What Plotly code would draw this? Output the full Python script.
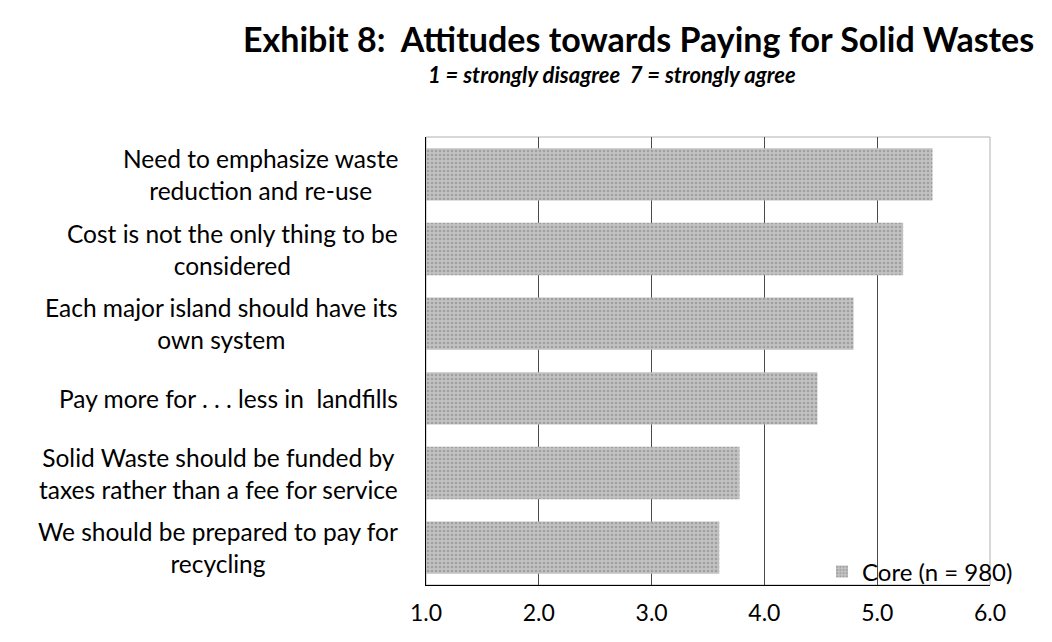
import plotly.graph_objects as go

categories = [
    "We should be prepared to pay for<br>recycling",
    "Solid Waste should be funded by<br>taxes rather than a fee for service",
    "Pay more for . . . less in  landfills",
    "Each major island should have its<br>own system",
    "Cost is not the only thing to be<br>considered",
    "Need to emphasize waste<br>reduction and re-use",
]
values = [3.60, 3.78, 4.47, 4.79, 5.23, 5.49]
tick_vals = [1, 2, 3, 4, 5, 6]
tick_text = ["1.0", "2.0", "3.0", "4.0", "5.0", "6.0"]
series_name = "Core (n = 980)"

FONT = "Lato"
W, H = 1052, 642
L, R, T, B = 426, 62, 137, 57
pw, ph = W - L - R, H - T - B

def px_x(px):
    return (px - L) / pw

def px_y(py):
    return (H - B - py) / ph

fig = go.Figure()
fig.add_trace(go.Bar(
    y=categories, x=values, orientation="h", name=series_name,
    marker=dict(color="#bdbdbd", line=dict(width=0),
                pattern=dict(shape=".", fgcolor="#7e7e7e", bgcolor="#c2c2c2",
                             size=4, solidity=0.35)),
    showlegend=True,
))

for cat in categories:
    fig.add_annotation(x=0, xref="paper", y=cat, yref="y", text=cat,
                       xanchor="right", yanchor="middle", align="center",
                       xshift=-26, showarrow=False,
                       font=dict(family=FONT, size=24.5, color="#000"))

fig.add_annotation(x=px_x(638), xref="paper", y=px_y(38), yref="paper",
                   text="<b>Exhibit 8:  Attitudes towards Paying for Solid Wastes</b>",
                   showarrow=False, xanchor="center", yanchor="middle",
                   font=dict(family=FONT, size=34, color="#000"))
fig.add_annotation(x=px_x(612), xref="paper", y=px_y(74), yref="paper",
                   text="<b><i>1 = strongly disagree  7 = strongly agree</i></b>",
                   showarrow=False, xanchor="center", yanchor="middle",
                   font=dict(family=FONT, size=22, color="#000"))

# light plot-area frame
fig.add_shape(type="rect", xref="paper", yref="paper", x0=0, x1=1, y0=0, y1=1,
              line=dict(color="#b0b0b0", width=1), layer="below")

fig.update_layout(
    width=W, height=H,
    margin=dict(l=L, r=R, t=T, b=B, pad=0),
    plot_bgcolor="white", paper_bgcolor="white",
    bargap=0.3,
    showlegend=True,
    legend=dict(x=px_x(822), xanchor="left", y=px_y(572), yanchor="middle",
                bgcolor="rgba(0,0,0,0)", font=dict(family=FONT, size=24, color="#000"),
                itemwidth=30, tracegroupgap=0),
    xaxis=dict(range=[1, 6], tickvals=tick_vals, ticktext=tick_text,
               showgrid=True, gridcolor="#4a4a4a", gridwidth=1,
               showline=True, linecolor="#000", linewidth=1,
               ticks="", ticklabelstandoff=7, zeroline=False,
               tickfont=dict(family=FONT, size=23, color="#000")),
    yaxis=dict(showticklabels=False, showgrid=False, showline=True,
               linecolor="#000", linewidth=1, ticks="", zeroline=False),
)

fig.write_html("out.html", config={"displayModeBar": False},
               post_script="document.body.style.margin='0';document.body.style.overflow='hidden';")
